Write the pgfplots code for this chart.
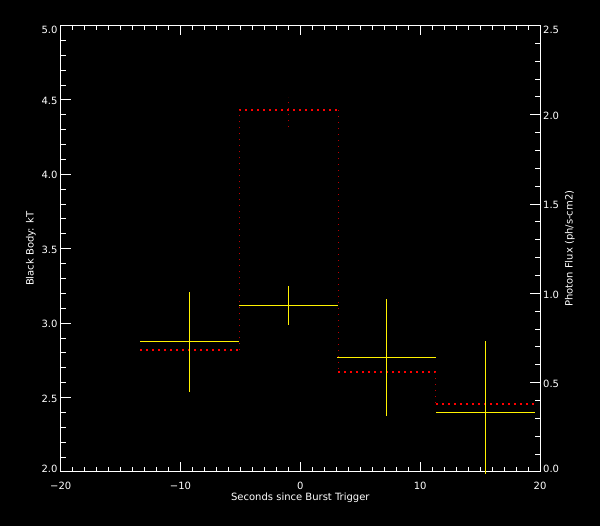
\documentclass[border=0pt]{standalone}
\usepackage{pgfplots}
\pgfplotsset{compat=1.18}
\usepackage{fontspec}
\setmainfont{DejaVu Sans}
\definecolor{dred}{rgb}{0.72,0,0}
\begin{document}
\begin{tikzpicture}[font=\fontsize{10bp}{12bp}\selectfont]
\fill[black] (0,0) rectangle (600bp,526bp);
\pgfplotsset{
 common/.style={
  at={(60.7bp,54bp)}, anchor=south west,
  scale only axis, width=479.3bp, height=446.5bp,
  xmin=-20, xmax=20,
  axis line style={white, line width=1bp},
  tick style={white, line width=1bp},
  tick align=inside,
  major tick length=10bp, minor tick length=5bp,
  xtick={-20,-10,0,10,20}, minor x tick num=9,
  minor y tick num=4,
  /pgf/number format/assume math mode=true,
  ticklabel style={white},
  label style={white},
  clip=false,
 }
}
% Photon flux axis (right)
\begin{axis}[common, ymin=0, ymax=2.5, hide x axis, axis y line*=right, ytick pos=right,
  ytick={0,0.5,1,1.5,2,2.5},
  yticklabels={\raisebox{4.5bp}[\height][\depth]{0.0},0.5,1.0,1.5,2.0,\raisebox{-3.5bp}[\height][\depth]{2.5}},
  yticklabel style={anchor=west, inner sep=0pt, xshift=3bp, yshift=-1bp},
  ylabel={Photon Flux (ph/s-cm2)},
  ylabel style={at={(axis description cs:1.0682,0.5)}, anchor=base}]
\addplot[red, line width=2bp, dash pattern=on 2bp off 4bp] coordinates {(-13.35,0.681) (-5.1,0.681)};
\addplot[red, line width=2bp, dash pattern=on 2bp off 4bp] coordinates {(-5.1,2.025) (3.15,2.025)};
\addplot[red, line width=2bp, dash pattern=on 2bp off 4bp] coordinates {(3.15,0.558) (11.3,0.558)};
\addplot[red, line width=2bp, dash pattern=on 2bp off 4bp] coordinates {(11.3,0.378) (19.55,0.378)};
\addplot[dred, line width=1bp, dash pattern=on 1bp off 5bp] coordinates {(-5.1,0.681) (-5.1,2.025)};
\addplot[dred, line width=1bp, dash pattern=on 1bp off 5bp] coordinates {(3.15,2.025) (3.15,0.558)};
\addplot[dred, line width=1bp, dash pattern=on 1bp off 5bp] coordinates {(11.3,0.558) (11.3,0.378)};
\addplot[dred, line width=1bp, dash pattern=on 1bp off 5bp] coordinates {(-0.975,1.930) (-0.975,2.098)};
\end{axis}
% Black body kT axis (left, box)
\begin{axis}[common, ymin=2, ymax=5, ytick pos=left, xtick pos=both,
  ytick={2,2.5,3,3.5,4,4.5,5},
  yticklabels={\raisebox{4.5bp}[\height][\depth]{2.0},2.5,3.0,3.5,4.0,4.5,\raisebox{-3.5bp}[\height][\depth]{5.0}},
  yticklabel style={anchor=east, inner sep=0pt, xshift=-3bp, yshift=-1bp},
  xticklabels={−20,−10,0,10,20},
  xticklabel style={anchor=north, inner sep=0pt, yshift=-9.5bp},
  ylabel={Black Body: kT},
  ylabel style={at={(axis description cs:-0.0567,0.5)}, anchor=base},
  xlabel={Seconds since Burst Trigger},
  xlabel style={at={(axis description cs:0.5,-0.0634)}, anchor=base}]
\addplot[draw=none, mark=none,
  error bars/.cd, x dir=both, x explicit, y dir=both, y explicit, error mark=none,
  error bar style={draw=yellow, line width=1bp, solid}] coordinates {
(-9.225,2.878) += (4.125,0.331) -= (4.125,0.339)
(-0.975,3.120) += (4.125,0.129) -= (4.125,0.131)
(7.225,2.770) += (4.125,0.390) -= (4.125,0.392)
(15.425,2.400) += (4.125,0.480) -= (4.125,0.412)
};
\end{axis}
\pgfresetboundingbox
\path[use as bounding box] (0,0) rectangle (600bp,526bp);
\end{tikzpicture}
\end{document}
